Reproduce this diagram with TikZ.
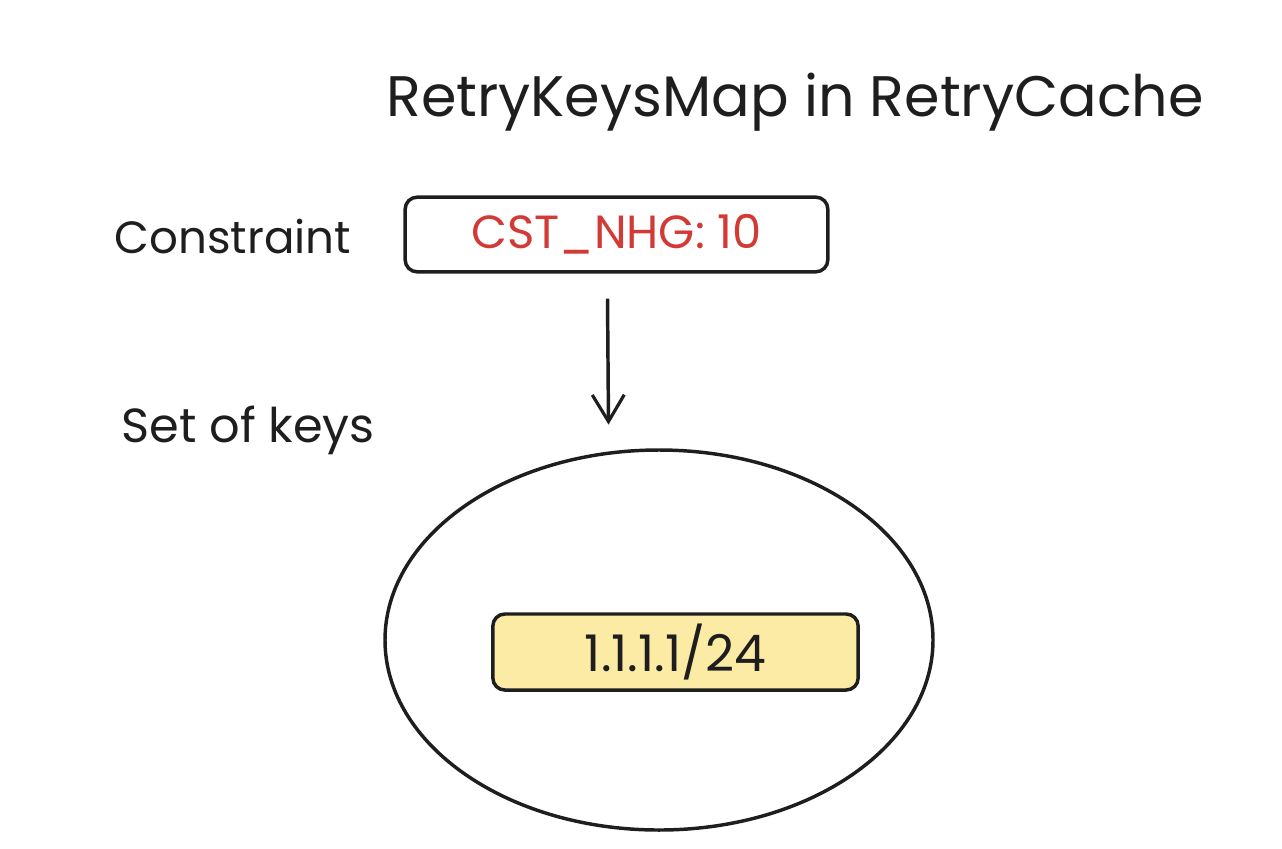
\documentclass[tikz,border=0pt]{standalone}
\usepackage{fontspec}
\setmainfont{Poppins}
\usetikzlibrary{arrows.meta,positioning,shapes.geometric}
\definecolor{ink}{HTML}{1E1E1E}
\definecolor{cstred}{HTML}{D23A35}
\definecolor{keyfill}{HTML}{FBEBA5}

\begin{document}
\begin{tikzpicture}[x=0.75bp,y=-0.75bp,
		tag/.style={anchor=west, text=ink, font=\fontsize{34}{40}\selectfont},
		box/.style={draw=ink, line width=2.6bp, rounded corners=9bp, inner sep=0pt},
		arrow/.style={draw=ink, line width=2.6bp, -{Straight Barb[length=20bp,width=24bp,line width=2.4bp]}}]
		\useasboundingbox (0,0) rectangle (1282,848);

		\node (title) at (795,102) [text=ink, font=\fontsize{43}{50}\selectfont] {RetryKeysMap in RetryCache};

		\node (constraint) at (110,237) [tag] {Constraint};
		\node (setkeys) at (117,430) [tag, font=\fontsize{36}{42}\selectfont] {Set of keys};

		\node (nhg) at (616.5,234.5) [box, minimum width=317bp, minimum height=56bp, text=cstred, font=\fontsize{35}{40}\selectfont] {CST\_NHG: 10};
		\node (keys) at (659,640) [ellipse, draw=ink, line width=2.6bp, minimum width=411bp, minimum height=285bp] {};
		\node (prefix) at (675.5,652) [box, fill=keyfill, minimum width=274bp, minimum height=57bp, text=ink, font=\fontsize{38}{44}\selectfont] {1.1.1.1/24};

		\draw[arrow] (nhg.south) ++(-9,25) coordinate (from) -- ++(1,126);
	\end{tikzpicture}
\end{document}
